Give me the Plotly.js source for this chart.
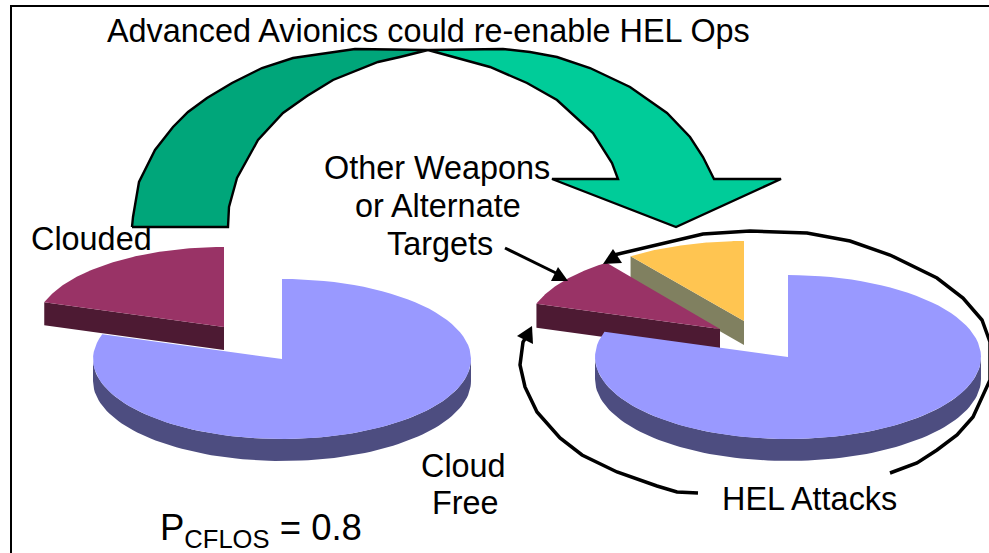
<!DOCTYPE html>
<html><head><meta charset="utf-8">
<script src="https://cdn.plot.ly/plotly-3.0.1.min.js"></script>
<style>html,body{margin:0;padding:0;background:#fff;overflow:hidden}#c{width:989px;height:553px}</style>
</head><body><div id="c"></div>
<script>
// ---- data ----
const leftLabels = ['Cloud Free', 'Clouded'];
const leftValues = [0.8, 0.2];
const rightLabels = ['HEL Attacks', 'Clouded', 'Other Weapons or Alternate Targets'];
const rightValues = [0.8, 0.1, 0.1];
const titleText = 'Advanced Avionics could re-enable HEL Ops';
const pcflosText = 'P<sub>CFLOS</sub> = 0.8';

// ---- annotated arrow outlines ----
const darkArrowX = [132,133,139,155,173,188,207,232,262,293,355,428,400,378,333,307,283,258,237,229,228,132];
const darkArrowY = [227,217,182,150,127,112,98,83,68,58,49,50,57,62,80,96,113,140,178,207,227,227];
const lightArrowX = [428,490,503,530,557,590,630,667,690,703,714,781,676,552,618,612,593,557,527,490,428];
const lightArrowY = [50,49,49,52,57,68,87,113,137,157,179,179,227,179,179,163,133,100,83,67,50];
const loopLowerX = [698,677,657,617,582,560,537,525,520,523,528];
const loopLowerY = [493,492,486,472,455,438,412,387,365,342,334];
const loopUpperX = [614,657,703,750,807,850,890,937,963,982,990,990,973,957,937,917,890];
const loopUpperY = [255,245,234,231,233,241,255,278,298,320,342,380,417,435,450,463,473];

// ---- pie geometry helpers ----
const TAU = Math.PI * 2;
const pt = (p, frac) => [p.cx + p.a * Math.sin(frac * TAU), p.cy - p.b * Math.cos(frac * TAU)];
function wedge(p, f0, f1) {
  const xs = [p.cx], ys = [p.cy], n = 90;
  for (let i = 0; i <= n; i++) { const q = pt(p, f0 + (f1 - f0) * i / n); xs.push(q[0]); ys.push(q[1]); }
  xs.push(p.cx); ys.push(p.cy);
  return [xs, ys];
}
function filled(xy, color, name) {
  return {type:'scatter', mode:'lines', x:xy[0], y:xy[1], fill:'toself', fillcolor:color,
          line:{width:0, color:color}, hoverinfo:'name', name:name, showlegend:false};
}
function rim(p, f0, f1) { // curved outer wall, visible front part
  const a = Math.max(f0, 0.25), b = Math.min(f1, 0.75), xs = [], ys = [], n = 90;
  for (let i = 0; i <= n; i++) { const q = pt(p, a + (b - a) * i / n); xs.push(q[0]); ys.push(q[1]); }
  for (let i = n; i >= 0; i--) { const q = pt(p, a + (b - a) * i / n); xs.push(q[0]); ys.push(q[1] + p.d); }
  return [xs, ys];
}
function cutFace(p, f) { // flat radial wall
  const q = pt(p, f);
  return [[p.cx, q[0], q[0], p.cx, p.cx], [p.cy, q[1], q[1] + p.d, p.cy + p.d, p.cy]];
}

const BLUE='#9999FF', BLUE_D='#4D4D80', PLUM='#993366', PLUM_D='#4D1A33', GOLD='#FFC551', OLIVE='#808060';
const traces = [];

// left pie
const L0 = {cx:282, cy:359, a:189, b:80, d:22};
const L1 = {cx:224, cy:327, a:189, b:80, d:23};
const lf = leftValues[0];
traces.push(filled(rim(L0, 0, lf), BLUE_D, leftLabels[0]));
traces.push(filled(wedge(L0, 0, lf), BLUE, leftLabels[0]));
traces.push(filled(cutFace(L1, lf), PLUM_D, leftLabels[1]));
traces.push(filled(wedge(L1, lf, lf + leftValues[1]), PLUM, leftLabels[1]));

// right pie
const R0 = {cx:788, cy:357, a:193, b:82, d:22};
const R1 = {cx:720, cy:329, a:193, b:82, d:24};
const R2 = {cx:744, cy:321, a:193, b:80, d:24};
const f0 = rightValues[0], f1 = f0 + rightValues[1], f2 = f1 + rightValues[2];
traces.push(filled(cutFace(R2, f1), OLIVE, rightLabels[2]));
traces.push(filled(wedge(R2, f1, f2), GOLD, rightLabels[2]));
traces.push(filled(cutFace(R1, f0), PLUM_D, rightLabels[1]));
traces.push(filled(wedge(R1, f0, f1), PLUM, rightLabels[1]));
traces.push(filled(rim(R0, 0, f0), BLUE_D, rightLabels[0]));
traces.push(filled(wedge(R0, 0, f0), BLUE, rightLabels[0]));

// curved block arrow (light part first, dark overlaps at the crest)
traces.push({type:'scatter', mode:'lines', x:lightArrowX, y:lightArrowY, fill:'toself', fillcolor:'#00CC99',
  line:{color:'#000', width:2.4}, hoverinfo:'skip', showlegend:false});
traces.push({type:'scatter', mode:'lines', x:darkArrowX, y:darkArrowY, fill:'toself', fillcolor:'#00A67A',
  line:{color:'#000', width:2.4}, hoverinfo:'skip', showlegend:false});

// HEL loop and the pointer
traces.push({type:'scatter', mode:'lines', x:loopLowerX, y:loopLowerY, line:{color:'#000', width:3.5}, hoverinfo:'skip', showlegend:false});
traces.push({type:'scatter', mode:'lines', x:loopUpperX, y:loopUpperY, line:{color:'#000', width:3.5}, hoverinfo:'skip', showlegend:false});

const shapes = [
  {type:'path', path:'M603,264 L613,249 L622,263 Z', fillcolor:'#000', line:{width:0}, xref:'x', yref:'y'},
  {type:'path', path:'M532,326 L517,336 L533,344 Z', fillcolor:'#000', line:{width:0}, xref:'x', yref:'y'},
  {type:'line', x0:505, y0:248, x1:560, y1:275, line:{color:'#000', width:3}, xref:'x', yref:'y'},
  {type:'path', path:'M568,281 L558,267 L551,281 Z', fillcolor:'#000', line:{width:0}, xref:'x', yref:'y'},
  {type:'line', x0:11, y0:6, x1:11, y1:553, line:{color:'#000', width:2}, xref:'x', yref:'y'},
  {type:'line', x0:10, y0:6, x1:989, y1:6, line:{color:'#000', width:2}, xref:'x', yref:'y'}
];

const FONT = 'Liberation Sans, Arial, sans-serif';
const label = (text, x, y, size, anchor) => ({text, x, y, xref:'x', yref:'y', xanchor:anchor || 'center', yanchor:'middle',
  showarrow:false, align:'center', borderpad:0, font:{family:FONT, size:size, color:'#000'}});
const S = 32.4;
const annotations = [
  label(titleText, 428.5, 31, S),
  label('Clouded', 91, 239, S),
  label('Other Weapons', 437, 168, S),
  label('or Alternate', 438, 206, S),
  label('Targets', 440, 244, S),
  label('Cloud', 463, 466, S),
  label('Free', 465, 503, S),
  label('HEL Attacks', 809, 499, S),
  label(pcflosText, 260.5, 530, 36.5)
];

Plotly.newPlot('c', traces, {
  width:989, height:553, margin:{l:0,r:0,t:0,b:0}, paper_bgcolor:'#fff', plot_bgcolor:'#fff',
  xaxis:{range:[0,989], visible:false, fixedrange:true},
  yaxis:{range:[553,0], visible:false, fixedrange:true},
  showlegend:false, shapes, annotations, hovermode:false
}, {displayModeBar:false, staticPlot:true});
</script></body></html>
